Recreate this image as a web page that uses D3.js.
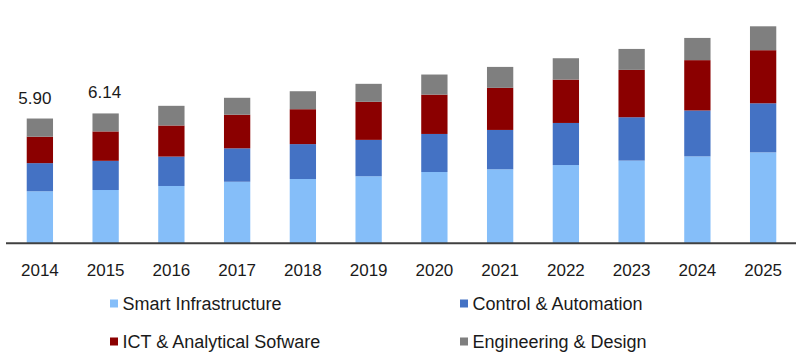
<!DOCTYPE html>
<html><head><meta charset="utf-8">
<script src="https://cdn.jsdelivr.net/npm/d3@7"></script>
<style>
html,body{margin:0;padding:0;background:#fff;}
svg{display:block;font-family:"Liberation Sans",Arial,sans-serif;}
</style></head>
<body><svg id="c" width="800" height="358"></svg>
<script>
const years = ["2014","2015","2016","2017","2018","2019","2020","2021","2022","2023","2024","2025"];
const seriesNames = ["Smart Infrastructure","Control & Automation","ICT & Analytical Sofware","Engineering & Design"];
const smartInfrastructure = [2.46,2.52,2.71,2.91,3.04,3.17,3.37,3.50,3.70,3.91,4.11,4.30];
const controlAutomation   = [1.33,1.38,1.39,1.58,1.65,1.72,1.80,1.86,1.99,2.05,2.17,2.32];
const ictAnalytical       = [1.25,1.39,1.47,1.59,1.65,1.80,1.86,1.99,2.05,2.24,2.38,2.51];
const engineeringDesign   = [0.86,0.85,0.93,0.80,0.85,0.85,0.95,0.99,1.01,0.99,1.05,1.13];
const totalLabels = [{year:"2014", text:"5.90"},{year:"2015", text:"6.14"}];
const colors = ["#85bef9","#4472c4","#8b0000","#7f7f7f"];

const rows = years.map((y,i)=>({year:y,
  s0:smartInfrastructure[i], s1:controlAutomation[i], s2:ictAnalytical[i], s3:engineeringDesign[i]}));
const keys = ["s0","s1","s2","s3"];
const stack = d3.stack().keys(keys)(rows);

const svg = d3.select("#c");
const x = d3.scaleBand().domain(years).range([7,796]).paddingInner(0.6).paddingOuter(0.3);
const y = d3.scaleLinear().domain([0,1]).range([243.3,222.15]);

svg.append("g").selectAll("g").data(stack).join("g")
  .attr("fill",(d,i)=>colors[i])
  .selectAll("rect").data(d=>d).join("rect")
  .attr("x",d=>x(d.data.year))
  .attr("width",x.bandwidth())
  .attr("y",d=>y(d[1]))
  .attr("height",d=>y(d[0])-y(d[1]));

// axis
const axis = d3.axisBottom(x).tickSize(0).tickPadding(0);
const ax = svg.append("g").attr("transform","translate(0,243.3)").call(axis);
ax.select(".domain").attr("stroke","#404040").attr("stroke-width",2).attr("d","M6,0H796");
ax.selectAll("text").attr("font-size","17px").attr("fill","#1a1a1a")
  .attr("font-family","'Liberation Sans',Arial,sans-serif").attr("dy",null).attr("y",33);

// total labels
const totals = years.map((yr,i)=>smartInfrastructure[i]+controlAutomation[i]+ictAnalytical[i]+engineeringDesign[i]);
svg.append("g").selectAll("text").data(totalLabels).join("text")
  .attr("x",(d,i)=>x(d.year)+x.bandwidth()/2 - (i===0?5:1))
  .attr("y",d=>y(totals[years.indexOf(d.year)])-15)
  .attr("text-anchor","middle").attr("font-size","17px").attr("fill","#1a1a1a")
  .text(d=>d.text);

// legend
const legendPos = [[110,299.5],[460,299.5],[110,337.5],[460,337.5]];
const lg = svg.append("g").selectAll("g").data(seriesNames).join("g")
  .attr("transform",(d,i)=>`translate(${legendPos[i][0]},${legendPos[i][1]})`);
lg.append("rect").attr("width",8).attr("height",8).attr("fill",(d,i)=>colors[i]);
lg.append("text").attr("x",12.5).attr("y",10.8).attr("font-size","18px").attr("fill","#1a1a1a").text(d=>d);
</script></body></html>
